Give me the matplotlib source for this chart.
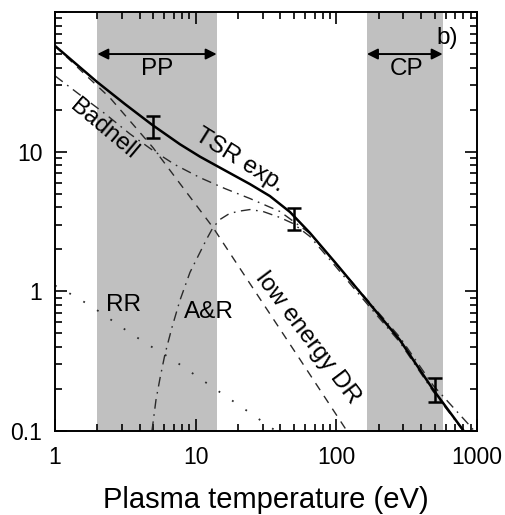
import numpy as np
import matplotlib
matplotlib.use("Agg")
import matplotlib.pyplot as plt
from matplotlib.ticker import LogLocator, NullFormatter, FixedLocator, FixedFormatter

plt.rcParams['font.family'] = ['Liberation Sans', 'DejaVu Sans']

# ---- data ----
T_exp = [1, 1.988, 3.145, 4.89, 7.73, 10.73, 16.16, 24.3, 33.7, 46.8, 64.9, 97.7, 147.2, 283, 486, 794, 1000]
v_exp = [57.2, 31.6, 21.9, 15.6, 11.3, 9.21, 7.34, 5.86, 4.81, 3.70, 2.62, 1.617, 0.987, 0.448, 0.199, 0.102, 0.073]

T_bad = [1, 1.505, 2.267, 3.41, 4.97, 7.13, 10.73, 16.16, 24.3, 39.7, 64.9, 97.7, 147, 283, 486, 890, 1000]
v_bad = [34.9, 25.5, 18.7, 13.4, 10.2, 8.07, 6.52, 5.44, 4.62, 3.73, 2.60, 1.61, 1.0, 0.469, 0.213, 0.109, 0.095]

T_dr = [1, 1.58, 2.46, 3.41, 4.97, 7.73, 13.3, 24.3, 55.1, 119, 147]
v_dr = [57.2, 36.9, 24.3, 16.6, 10.7, 5.91, 2.86, 1.137, 0.326, 0.1, 0.072]

T_ar = [4.89, 5.22, 5.58, 6.05, 6.79, 7.73, 9.11, 10.73, 12.03, 13.27, 14.89, 16.96, 19.66,
        24.3, 30.1, 39.7, 49.2, 64.9, 97.7, 147, 283, 486, 820]
v_ar = [0.1, 0.1665, 0.239, 0.355, 0.553, 0.862, 1.367, 1.90, 2.39, 2.86, 3.27, 3.55, 3.73,
        3.85, 3.73, 3.38, 3.06, 2.47, 1.53, 0.936, 0.432, 0.193, 0.0968]

T_rr = [1, 1.43, 2.09, 3.05, 4.5, 6.8, 12, 21.3, 40]
v_rr = [1.1, 0.906, 0.71, 0.544, 0.42, 0.327, 0.22, 0.148, 0.095]

T_err = [5, 50, 500]
v_err = [14.8, 3.32, 0.197]
err_lo = [12.6, 2.73, 0.161]
err_hi = [18.0, 3.98, 0.239]

pp_range = [2, 14.1]
cp_range = [165, 570]

xticks = [1, 10, 100, 1000]
xticklabels = ["1", "10", "100", "1000"]
yticks = [0.1, 1, 10]
yticklabels = ["0.1", "1", "10"]

# ---- figure ----
fig = plt.figure(figsize=(5.06, 5.15), dpi=100)
ax = fig.add_axes([55/506, 1-431/515, 422/506, 419/515])
ax.set_xscale('log')
ax.set_yscale('log')
ax.set_xlim(1, 1000)
ax.set_ylim(0.1, 100)

ax.axvspan(pp_range[0], pp_range[1], color='#c0c0c0', lw=0, zorder=0)
ax.axvspan(cp_range[0], cp_range[1], color='#c0c0c0', lw=0, zorder=0)

gray = '#2a2a2a'
ax.plot(T_dr, v_dr, color=gray, lw=1.0, ls=(0, (6, 5)), zorder=2)
ax.plot(T_bad, v_bad, color=gray, lw=1.0, ls=(0, (7, 4, 1.2, 4)), zorder=2)
ax.plot(T_ar, v_ar, color=gray, lw=1.0, ls=(0, (7, 4, 1.2, 4)), zorder=2)
ax.plot(T_rr, v_rr, color=gray, lw=1.3, ls=(0, (1, 8)), zorder=2)
ax.plot(T_exp, v_exp, color='black', lw=1.8, zorder=3)

yerr = [np.array(v_err) - np.array(err_lo), np.array(err_hi) - np.array(v_err)]
ax.errorbar(T_err, v_err, yerr=yerr, fmt='none', ecolor='black',
            elinewidth=1.8, capsize=5, capthick=1.8, zorder=4)

# arrows
arrow_kw = dict(arrowstyle='<|-|>', color='black', lw=1.4, mutation_scale=16,
                shrinkA=0, shrinkB=0)
ax.annotate('', xy=(pp_range[0], 50), xytext=(pp_range[1], 50), arrowprops=arrow_kw)
ax.annotate('', xy=(cp_range[0], 50), xytext=(cp_range[1], 50), arrowprops=arrow_kw)

fs = 17.5
ax.text(5.31, 39, 'PP', fontsize=fs, ha='center', va='center')
ax.text(318, 39, 'CP', fontsize=fs, ha='center', va='center')
ax.text(0.929, 0.938, 'b)', fontsize=fs, ha='center', va='center', transform=ax.transAxes)

def px2data(x, y):
    return 10**((x-55)/140.7), 10**((431-y)/140 - 1)

t, v = px2data(104, 129)
ax.text(t, v, 'Badnell', fontsize=fs, rotation=-40, ha='center', va='center', rotation_mode='anchor')
t, v = px2data(240, 160)
ax.text(t, v, 'TSR exp.', fontsize=fs, rotation=-32, ha='center', va='center', rotation_mode='anchor')
t, v = px2data(308, 338)
ax.text(t, v, 'low energy DR', fontsize=fs, rotation=-53, ha='center', va='center', rotation_mode='anchor')
t, v = px2data(124, 305)
ax.text(t, v, 'RR', fontsize=fs, ha='center', va='center')
t, v = px2data(209, 312)
ax.text(t, v, 'A&R', fontsize=fs, ha='center', va='center')

# ticks
ax.xaxis.set_major_locator(FixedLocator(xticks))
ax.xaxis.set_major_formatter(FixedFormatter(xticklabels))
ax.yaxis.set_major_locator(FixedLocator(yticks + [100]))
ax.yaxis.set_major_formatter(FixedFormatter(yticklabels + [""]))
ax.xaxis.set_minor_locator(LogLocator(base=10, subs=np.arange(2, 10), numticks=20))
ax.yaxis.set_minor_locator(LogLocator(base=10, subs=np.arange(2, 10), numticks=20))
ax.xaxis.set_minor_formatter(NullFormatter())
ax.yaxis.set_minor_formatter(NullFormatter())
ax.tick_params(which='both', direction='in', top=True, right=True, width=1.2, colors='black')
ax.tick_params(which='major', length=8.5)
ax.tick_params(which='minor', length=5)
ax.tick_params(axis='x', which='major', labelsize=16.5, pad=11)
ax.tick_params(axis='y', which='major', labelsize=16.5, pad=9)
for s in ax.spines.values():
    s.set_linewidth(1.4)

ax.set_xlabel('Plasma temperature (eV)', fontsize=21, labelpad=12)

fig.savefig('out.png', dpi=100)
